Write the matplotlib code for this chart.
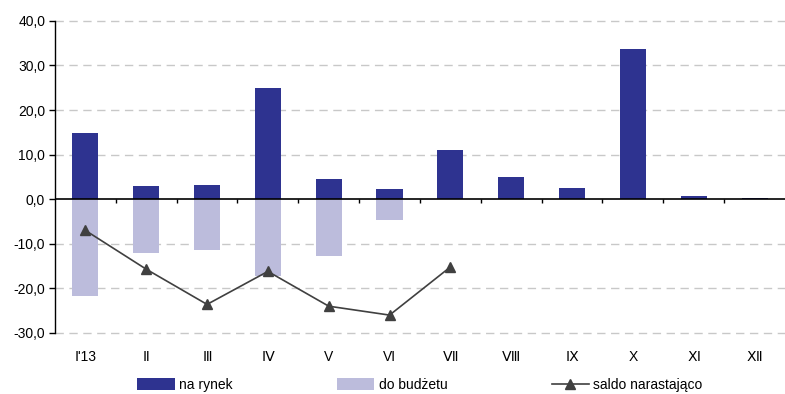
import matplotlib
matplotlib.use("Agg")
import matplotlib.pyplot as plt
import numpy as np

plt.rcParams['font.family'] = ['Liberation Sans', 'DejaVu Sans']

months = ["Ⅰ'13", "Ⅱ", "Ⅲ", "Ⅳ", "V", "VI", "Ⅶ", "Ⅷ", "Ⅸ", "X", "Ⅺ", "Ⅻ"]
na_rynek = [14.8, 2.9, 3.1, 24.9, 4.5, 2.2, 11.0, 4.9, 2.5, 33.7, 0.7, 0.2]
do_budzetu = [-21.7, -12.1, -11.4, -17.2, -12.7, -4.6]
saldo = [-7.0, -15.7, -23.6, -16.2, -24.0, -26.0, -15.2]

dark = '#2e3390'
light = '#bcbcdc'

fig = plt.figure(figsize=(7.85, 3.94), dpi=100)
ax = fig.add_axes([0.070, 0.155, 0.93, 0.792])

x = np.arange(len(months))
w = 0.43
b1 = ax.bar(x, na_rynek, width=w, color=dark, label='na rynek', zorder=3)
b2 = ax.bar(x[:len(do_budzetu)], do_budzetu, width=w, color=light, label='do budżetu', zorder=3)
l1, = ax.plot(x[:len(saldo)], saldo, color='#404040', lw=1.2, marker='^', ms=7,
              label='saldo narastająco', zorder=4)

ax.set_xlim(-0.5, len(months) - 0.5)
ax.set_ylim(-30, 40)
ax.set_yticks(np.arange(-30, 41, 10))
ax.set_yticklabels([f"{v:.1f}".replace('.', ',') for v in np.arange(-30, 41, 10)])
ax.set_xticks(x)
ax.set_xticklabels(months)

for v in np.arange(-30, 41, 10):
    if v != 0:
        ax.axhline(v, color='#c8c8c8', lw=1, dashes=(6, 4), zorder=1, clip_on=False)
ax.axhline(0, color='black', lw=1.2, zorder=5)
ax.vlines(np.arange(0.5, len(months) - 0.5, 1), -0.8, 0, color='black', lw=1, zorder=5)

for s in ['top', 'right', 'bottom']:
    ax.spines[s].set_visible(False)
ax.spines['left'].set_linewidth(1)
ax.spines['left'].set_zorder(6)
ax.tick_params(axis='y', length=4, width=1, labelsize=10, pad=3)
ax.tick_params(axis='x', length=0, labelsize=10, pad=12)

fig.legend([b1, b2, l1], ['na rynek', 'do budżetu', 'saldo narastająco'],
           loc='center', bbox_to_anchor=(0.535, 0.023), ncol=3, frameon=False,
           fontsize=10, handlelength=2.7, handletextpad=0.3, columnspacing=7.5,
           handleheight=0.9)

fig.savefig('out.png', dpi=100)
